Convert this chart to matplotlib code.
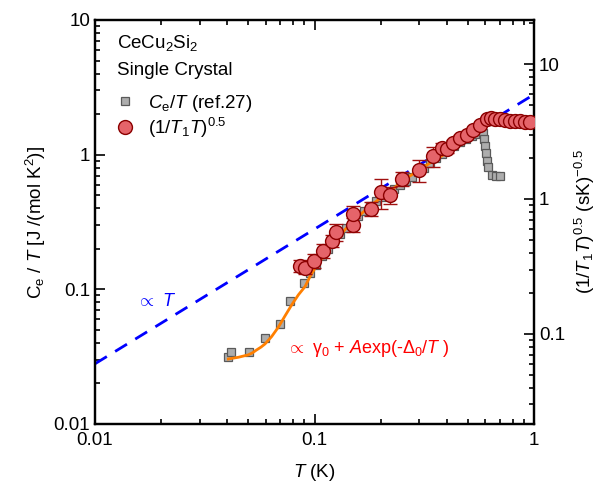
import matplotlib
matplotlib.use("Agg")
import matplotlib.pyplot as plt
from matplotlib.ticker import LogLocator, FixedLocator, FixedFormatter, NullFormatter
import numpy as np

plt.rcParams['font.family'] = ['Liberation Sans', 'DejaVu Sans']
plt.rcParams['mathtext.fontset'] = 'custom'
plt.rcParams['mathtext.rm'] = 'Liberation Sans'
plt.rcParams['mathtext.it'] = 'Liberation Sans:italic'
plt.rcParams['mathtext.bf'] = 'Liberation Sans:bold'

# ---- data: specific heat Ce/T (ref.27), left axis ----
T_C = [0.0404, 0.0417, 0.0503, 0.0595, 0.0696, 0.0773, 0.0896, 0.0954, 0.1016, 0.1082,
       0.1152, 0.1227, 0.1307, 0.1392, 0.1482, 0.1578, 0.1681, 0.1790, 0.1906, 0.2030,
       0.2162, 0.2302, 0.2452, 0.2611, 0.2781, 0.2961, 0.3154, 0.3359, 0.3577, 0.3809,
       0.4056, 0.4320, 0.4601, 0.4899, 0.5218, 0.5557, 0.5859, 0.5920, 0.5982, 0.6045,
       0.6108, 0.6172, 0.6437, 0.6714, 0.7001]
C_over_T = [0.0315, 0.0343, 0.0343, 0.0436, 0.0553, 0.0820, 0.1116, 0.1324, 0.1518, 0.1770,
            0.1995, 0.2288, 0.2577, 0.2856, 0.3164, 0.3507, 0.3820, 0.4160, 0.4531, 0.4853,
            0.5198, 0.5567, 0.5962, 0.6385, 0.6834, 0.7446, 0.7967, 0.8678, 0.9452, 1.012,
            1.084, 1.160, 1.243, 1.308, 1.377, 1.424, 1.449, 1.308, 1.160, 1.029,
            0.898, 0.810, 0.707, 0.695, 0.695]

# ---- data: NMR (1/T1T)^0.5, right axis ----
T_nmr = [0.0859, 0.0906, 0.0995, 0.1093, 0.1202, 0.1253, 0.1497, 0.1497, 0.1808, 0.2009,
         0.2208, 0.2504, 0.2994, 0.3467, 0.381, 0.402, 0.428, 0.460, 0.495, 0.527,
         0.568, 0.611, 0.637, 0.664, 0.700, 0.738, 0.778, 0.819, 0.863, 0.910, 0.959]
nmr = [0.319, 0.308, 0.347, 0.412, 0.489, 0.570, 0.642, 0.774, 0.843, 1.127,
       1.071, 1.406, 1.640, 2.083, 2.388, 2.344, 2.600, 2.832, 2.978, 3.243,
       3.532, 3.914, 3.98, 3.91, 3.91, 3.85, 3.78, 3.78, 3.78, 3.72, 3.72]
nmr_rel_err = [0.10, 0.10, 0.12, 0.12, 0.10, 0.15, 0.12, 0.15, 0.12, 0.25,
               0.15, 0.12, 0.18, 0.17, 0.08, 0.06, 0.05, 0.05, 0.04, 0.04,
               0.04, 0.04, 0.04, 0.04, 0.04, 0.04, 0.04, 0.04, 0.04, 0.04, 0.04]

# ---- fit curve gamma0 + A exp(-D0/T) ----
T_fit = [0.0405, 0.0425, 0.0450, 0.0472, 0.0499, 0.0522, 0.0545, 0.0570, 0.0595, 0.0638,
         0.0684, 0.0734, 0.0787, 0.0844, 0.0905, 0.0954, 0.1005, 0.1177, 0.1451, 0.1790,
         0.2208, 0.2723, 0.3359, 0.4143]
C_fit = [0.0304, 0.0308, 0.0313, 0.0319, 0.0326, 0.0338, 0.0355, 0.0372, 0.0393, 0.0446,
         0.0523, 0.0635, 0.0766, 0.0909, 0.1047, 0.1243, 0.1434, 0.2065, 0.3058, 0.4160,
         0.5377, 0.6950, 0.8678, 1.065]

# ---- proportional-to-T guide ----
T_lin = [0.01, 1.0]
C_lin = [0.028, 2.8]

fig = plt.figure(figsize=(5.99, 4.96), dpi=100)
ax = fig.add_axes([95/599, 72/496, 439/599, 404/496])
ax.set_xscale('log')
ax.set_yscale('log')
ax.set_xlim(0.01, 1)
ax.set_ylim(0.01, 10)

ax.plot(T_lin, C_lin, color='#0000FF', lw=2.0, ls=(0, (5, 3.5)), zorder=2)
sq, = ax.plot(T_C, C_over_T, ls='none', marker='s', ms=5.5, mfc='#ADADAD', mec='#5A5A5A',
              mew=0.9, zorder=3, label=r'$C_\mathrm{e}/T$ (ref.27)')
ax.plot(T_fit, C_fit, color='#FF7F00', lw=2.0, zorder=4)

ax2 = ax.twinx()
ax2.set_yscale('log')
ax2.set_ylim(0.0215, 21.2)
yerr = [v * e for v, e in zip(nmr, nmr_rel_err)]
eb = ax2.errorbar(T_nmr, nmr, yerr=yerr, ls='none', marker='o', ms=10, mfc='#E5646A',
                  mec='#8B0000', mew=1.0, ecolor='#A01010', elinewidth=1.0, capsize=5,
                  capthick=1.0, zorder=5)
circ = ax2.plot([], [], ls='none', marker='o', ms=10, mfc='#E5646A', mec='#8B0000',
                mew=1.0, label=r'$(1/T_1T)^{0.5}$')[0]

fs = 13.5
for a in (ax, ax2):
    for s in a.spines.values():
        s.set_linewidth(1.6)

ax.tick_params(which='both', direction='in', top=True, right=False, labelsize=fs, width=1.2)
ax.tick_params(which='major', length=7)
ax.tick_params(which='minor', length=3.5)
ax2.tick_params(which='both', direction='in', labelsize=fs, width=1.2)
ax2.tick_params(which='major', length=7)
ax2.tick_params(which='minor', length=3.5)

ax.xaxis.set_major_locator(FixedLocator([0.01, 0.1, 1]))
ax.xaxis.set_major_formatter(FixedFormatter(['0.01', '0.1', '1']))
ax.xaxis.set_minor_locator(LogLocator(base=10, subs=np.arange(2, 10), numticks=20))
ax.xaxis.set_minor_formatter(NullFormatter())
ax.yaxis.set_major_locator(FixedLocator([0.01, 0.1, 1, 10]))
ax.yaxis.set_major_formatter(FixedFormatter(['0.01', '0.1', '1', '10']))
ax.yaxis.set_minor_locator(LogLocator(base=10, subs=np.arange(2, 10), numticks=20))
ax.yaxis.set_minor_formatter(NullFormatter())
ax2.yaxis.set_major_locator(FixedLocator([0.1, 1, 10]))
ax2.yaxis.set_major_formatter(FixedFormatter(['0.1', '1', '10']))
ax2.yaxis.set_minor_locator(LogLocator(base=10, subs=np.arange(2, 10), numticks=20))
ax2.yaxis.set_minor_formatter(NullFormatter())
ax.tick_params(axis='x', pad=6)

ax.set_xlabel(r'$T$ (K)', fontsize=fs, labelpad=9)
ax.set_ylabel(r'C$_\mathrm{e}$ / $T$ [J /(mol K$^2$)]', fontsize=fs, labelpad=4)
ax2.set_ylabel(r'(1/$T_1T$)$^{0.5}$ (sK)$^{-0.5}$', fontsize=fs, labelpad=6)

ax.text(0.050, 0.943, r'CeCu$_2$Si$_2$', transform=ax.transAxes, fontsize=fs,
        va='center', ha='left')
ax.text(0.050, 0.876, 'Single Crystal', transform=ax.transAxes, fontsize=fs,
        va='center', ha='left')
leg = ax2.legend(handles=[sq, circ], loc='upper left', bbox_to_anchor=(0.018, 0.852),
                 frameon=False, fontsize=fs, handlelength=1.0, handletextpad=0.7,
                 labelspacing=0.08, borderaxespad=0.3, markerscale=1.0)

ax.text(0.096, 0.302, r'$\propto$ $T$', transform=ax.transAxes, fontsize=fs - 0.5,
        color='#0000FF', va='center', ha='left')
ax.text(0.437, 0.188, r'$\propto$ γ$_0$ + $A$exp(-$\mathit{\Delta}_0$/$T$ )',
        transform=ax.transAxes, fontsize=fs - 0.5, color='#FF0000', va='center', ha='left')

fig.savefig('out.png', dpi=100)
